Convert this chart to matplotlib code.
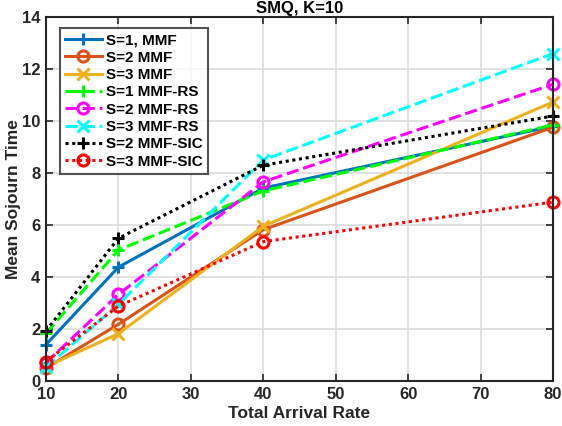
import numpy as np
import matplotlib
matplotlib.use("Agg")
from matplotlib import pyplot as plt

# data
rates = [10, 20, 40, 80]
s1_mmf = [1.40, 4.38, 7.42, 9.80]
s2_mmf = [0.50, 2.18, 5.82, 9.76]
s3_mmf = [0.55, 1.82, 5.95, 10.73]
s1_rs = [1.83, 5.04, 7.31, 9.85]
s2_rs = [0.70, 3.33, 7.66, 11.41]
s3_rs = [0.52, 2.95, 8.50, 12.59]
s2_sic = [1.93, 5.49, 8.30, 10.19]
s3_sic = [0.75, 2.88, 5.36, 6.88]

labels = ["S=1, MMF", "S=2 MMF", "S=3 MMF", "S=1 MMF-RS", "S=2 MMF-RS",
          "S=3 MMF-RS", "S=2 MMF-SIC", "S=3 MMF-SIC"]

plt.rcParams['font.family'] = ['Liberation Sans', 'DejaVu Sans']
plt.rcParams['font.weight'] = 'bold'

fig = plt.figure(figsize=(5.62, 4.26), dpi=100)
ax = fig.add_axes([46/562, 1-381/426, (553-46)/562, (381-17)/426])

series = [s1_mmf, s2_mmf, s3_mmf, s1_rs, s2_rs, s3_rs, s2_sic, s3_sic]
colors = ['#0072BD', '#D95319', '#EDB120', '#00FF00', '#FF00FF', '#00FFFF', 'k', 'r']
markers = ['+', 'o', 'x', '+', 'o', 'x', '+', 'o']
styles = ['-', '-', '-', (0, (4, 1.6)), (0, (4, 1.6)), (0, (4, 1.6)), (0, (1, 1.2)), (0, (1, 1.2))]

for y, c, m, ls, lab in zip(series, colors, markers, styles, labels):
    ax.plot(rates, y, color=c, marker=m, linestyle=ls, linewidth=2.2,
            markersize=8, markeredgewidth=2.2, markerfacecolor='none',
            label=lab, clip_on=False)

ax.set_xlim(10, 80)
ax.set_ylim(0, 14)
ax.set_xticks(np.arange(10, 81, 10))
ax.set_yticks(np.arange(0, 15, 2))
ax.grid(True, color='#dcdcdc', linewidth=1.2)
ax.set_axisbelow(True)
for sp in ax.spines.values():
    sp.set_color('#262626')
    sp.set_linewidth(1.5)
ax.tick_params(direction='in', top=True, right=True, length=5, width=1.2,
               colors='#262626', labelsize=12, pad=4)
for t in ax.get_xticklabels() + ax.get_yticklabels():
    t.set_fontweight('bold')

ax.set_title("SMQ, K=10", fontsize=12, fontweight='bold', pad=3)
ax.set_xlabel("Total Arrival Rate", fontsize=12.5, fontweight='bold', color='#262626', labelpad=3)
ax.set_ylabel("Mean Sojourn Time", fontsize=12.5, fontweight='bold', color='#262626', labelpad=1)

leg = ax.legend(loc='upper left', bbox_to_anchor=(0.027, 0.97), fontsize=11,
                frameon=True, fancybox=False, handlelength=2.4, handletextpad=0.3,
                labelspacing=0.22, borderpad=0.35, borderaxespad=0)
leg.get_frame().set_edgecolor('#262626')
leg.get_frame().set_linewidth(1.5)
for t in leg.get_texts():
    t.set_fontweight('bold')

fig.savefig("out.png", dpi=100)
